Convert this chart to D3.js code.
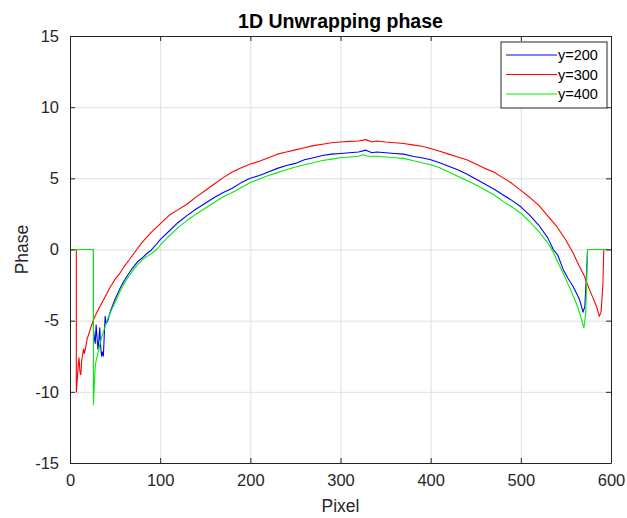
<!DOCTYPE html>
<html>
<head>
<meta charset="utf-8">
<script src="https://cdn.jsdelivr.net/npm/d3@7"></script>
<style>
  body { margin: 0; background: #fff; }
  svg { font-family: 'Liberation Sans', Arial, sans-serif; }
  .grid line { stroke: #dfdfdf; stroke-width: 1; }
  .grid .domain { display: none; }
  .axis text { font-size: 16.5px; fill: #262626; }
  .axis line, .axis .domain { stroke: #262626; }
  .line { fill: none; stroke-width: 1.1; stroke-linejoin: round; }
</style>
</head>
<body>
<div class="artboard"></div>
<script>
// pixel / phase pairs, per row
var px200 = [0, 26, 26, 27, 28, 29, 30, 31, 32, 33, 34, 35, 36, 37, 38, 39, 40, 42, 45, 50, 55, 60, 65, 70, 75, 80, 85, 90, 95, 100,
  110, 120, 130, 140, 150, 160, 170, 180, 190, 200, 210, 220, 230, 240, 250, 260, 270, 280, 290, 300,
  310, 320, 328, 335, 340, 350, 360, 370, 380, 390, 400, 410, 420, 430, 440, 450, 460, 470, 480, 490, 500,
  510, 520, 530, 536, 541, 547, 552, 558, 565, 569, 571, 573, 574, 600];
var ph200 = [0, 0, -5.6, -6.2, -6.6, -5.3, -6.2, -7.0, -6.4, -5.5, -6.8, -7.5, -7.2, -7.5, -6.0, -4.7, -5.2, -5.0, -4.3, -3.5, -2.8, -2.2, -1.7, -1.25, -0.85, -0.6, -0.3, -0.05, 0.3, 0.7,
  1.3, 1.9, 2.4, 2.85, 3.25, 3.65, 4.0, 4.3, 4.7, 5.0, 5.2, 5.45, 5.7, 5.9, 6.05, 6.3, 6.45, 6.6, 6.7, 6.75,
  6.8, 6.85, 6.98, 6.8, 6.85, 6.8, 6.75, 6.7, 6.55, 6.45, 6.3, 6.1, 5.85, 5.6, 5.3, 4.95, 4.6, 4.25, 3.85, 3.45, 3.0,
  2.4, 1.7, 0.8, 0.0, -0.4, -1.4, -2.0, -2.6, -3.5, -4.4, -4.0, -1.5, 0, 0];

var px300 = [0, 7, 7, 8, 9, 10, 11, 12, 13, 15, 16, 17, 19, 21, 24, 27, 30, 35, 40, 45, 50, 55, 60, 66, 74, 80, 90, 100,
  110, 120, 130, 140, 150, 160, 170, 180, 190, 200, 210, 220, 230, 240, 250, 260, 270, 280, 290, 300,
  310, 320, 328, 335, 340, 350, 360, 370, 380, 390, 400, 410, 420, 430, 440, 450, 460, 470, 480, 490, 500,
  510, 520, 530, 540, 550, 558, 565, 570, 576, 580, 584, 587, 589, 591, 592, 600];
var ph300 = [0, 0, -10, -9.2, -8.2, -7.6, -8.6, -8.8, -7.8, -7.0, -7.3, -7.0, -6.3, -5.9, -5.3, -4.8, -4.4, -3.8, -3.2, -2.6, -2.1, -1.7, -1.2, -0.7, 0, 0.5, 1.2, 1.8,
  2.4, 2.8, 3.2, 3.7, 4.15, 4.6, 5.05, 5.45, 5.75, 6.0, 6.2, 6.45, 6.7, 6.85, 7.0, 7.15, 7.3, 7.4, 7.5, 7.55,
  7.6, 7.62, 7.72, 7.55, 7.62, 7.55, 7.5, 7.45, 7.35, 7.25, 7.1, 6.9, 6.7, 6.5, 6.3, 6.0, 5.7, 5.45, 5.05, 4.65, 4.15,
  3.65, 3.1, 2.35, 1.6, 0.65, -0.25, -1.2, -1.8, -2.8, -3.4, -4.0, -4.7, -4.4, -2.5, 0, 0];

var px400 = [0, 26, 26, 27, 28, 29, 31, 33, 35, 38, 41, 45, 50, 55, 60, 65, 70, 75, 80, 85, 90, 97, 100,
  110, 120, 130, 140, 150, 160, 170, 180, 190, 200, 210, 220, 230, 240, 250, 260, 270, 280, 290, 300,
  310, 320, 325, 330, 340, 350, 360, 370, 380, 390, 400, 410, 420, 430, 440, 450, 460, 470, 480, 490, 500,
  510, 520, 530, 536, 540, 545, 550, 555, 561, 566, 570, 572, 574, 600];
var ph400 = [0, 0, -10.9, -9.5, -8.2, -7.8, -7.3, -6.7, -6.2, -5.6, -5.0, -4.4, -3.7, -3.0, -2.4, -1.9, -1.45, -1.05, -0.75, -0.5, -0.3, 0.05, 0.3,
  0.95, 1.55, 2.05, 2.5, 2.9, 3.3, 3.7, 4.0, 4.35, 4.7, 4.95, 5.2, 5.4, 5.6, 5.8, 5.95, 6.1, 6.25, 6.35, 6.45,
  6.5, 6.55, 6.65, 6.55, 6.55, 6.5, 6.45, 6.4, 6.25, 6.1, 5.95, 5.75, 5.45, 5.15, 4.85, 4.55, 4.2, 3.85, 3.4, 3.0, 2.55,
  1.95, 1.25, 0.45, -0.2, -0.75, -1.4, -2.1, -2.8, -3.7, -4.6, -5.5, -4.5, 0, 0];

var seriesNames = ['y=200', 'y=300', 'y=400'];
var seriesColors = ['#0000ff', '#ff0000', '#00ee00'];
var xTicks = [0, 100, 200, 300, 400, 500, 600];
var yTicks = [-15, -10, -5, 0, 5, 10, 15];

var zip = function(xs, ys) {
  return xs.map(function(x, idx) { return { t: x, v: ys[idx] }; });
};

var drawChart = function() {
  var W = 627, H = 518;
  var margin = { top: 36, right: 16, bottom: 55, left: 70 };
  var width = W - margin.left - margin.right;
  var height = H - margin.top - margin.bottom;

  var series = [zip(px200, ph200), zip(px300, ph300), zip(px400, ph400)];

  var x = d3.scaleLinear().domain([0, 600]).range([0, width]);
  var y = d3.scaleLinear().domain([-15, 15]).range([height, 0]);

  var svg = d3.select('.artboard').append('svg')
    .attr('width', W)
    .attr('height', H);

  var g = svg.append('g')
    .attr('transform', 'translate(' + margin.left + ',' + margin.top + ')');

  // grid
  g.append('g')
    .attr('class', 'grid')
    .attr('transform', 'translate(0,' + height + ')')
    .call(d3.axisBottom(x).tickValues(xTicks).tickSize(-height).tickFormat(''));
  g.append('g')
    .attr('class', 'grid')
    .call(d3.axisLeft(y).tickValues(yTicks).tickSize(-width).tickFormat(''));

  var line = d3.line()
    .x(function(d) { return x(d.t); })
    .y(function(d) { return y(d.v); });

  series.forEach(function(s, idx) {
    g.append('path')
      .datum(s)
      .attr('class', 'line')
      .attr('stroke', seriesColors[idx])
      .attr('d', line);
  });

  // axes, MATLAB style ticks point inward
  g.append('g')
    .attr('class', 'axis')
    .attr('transform', 'translate(0,' + height + ')')
    .call(d3.axisBottom(x).tickValues(xTicks).tickSizeInner(-5).tickSizeOuter(0).tickPadding(11));
  g.append('g')
    .attr('class', 'axis')
    .call(d3.axisLeft(y).tickValues(yTicks).tickSizeInner(-5).tickSizeOuter(0).tickPadding(11)
      .tickFormat(function(d) { return d < 0 ? '-' + Math.abs(d) : d; }));
  g.append('g')
    .attr('class', 'axis')
    .call(d3.axisTop(x).tickValues(xTicks).tickSizeInner(-5).tickSizeOuter(0).tickFormat(''));
  g.append('g')
    .attr('class', 'axis')
    .attr('transform', 'translate(' + width + ',0)')
    .call(d3.axisRight(y).tickValues(yTicks).tickSizeInner(-5).tickSizeOuter(0).tickFormat(''));

  svg.append('text')
    .attr('x', margin.left + width / 2)
    .attr('y', 28)
    .attr('text-anchor', 'middle')
    .attr('font-size', 19.5)
    .attr('font-weight', 'bold')
    .attr('fill', '#000')
    .text('1D Unwrapping phase');

  svg.append('text')
    .attr('x', margin.left + width / 2)
    .attr('y', 512)
    .attr('text-anchor', 'middle')
    .attr('font-size', 17.5)
    .attr('fill', '#262626')
    .text('Pixel');

  svg.append('text')
    .attr('transform', 'translate(28,' + (margin.top + height / 2) + ') rotate(-90)')
    .attr('text-anchor', 'middle')
    .attr('font-size', 17.5)
    .attr('fill', '#262626')
    .text('Phase');

  // legend
  var leg = svg.append('g').attr('transform', 'translate(501,42)');
  leg.append('rect')
    .attr('width', 106)
    .attr('height', 66)
    .attr('fill', '#fff')
    .attr('stroke', '#262626');
  seriesNames.forEach(function(name, idx) {
    var ly = 13 + idx * 19.5;
    leg.append('line')
      .attr('x1', 5).attr('x2', 56)
      .attr('y1', ly).attr('y2', ly)
      .attr('stroke', seriesColors[idx]);
    leg.append('text')
      .attr('x', 57)
      .attr('y', ly + 5)
      .attr('font-size', 14.5)
      .attr('fill', '#000')
      .text(name);
  });
};

drawChart();
</script>
</body>
</html>
